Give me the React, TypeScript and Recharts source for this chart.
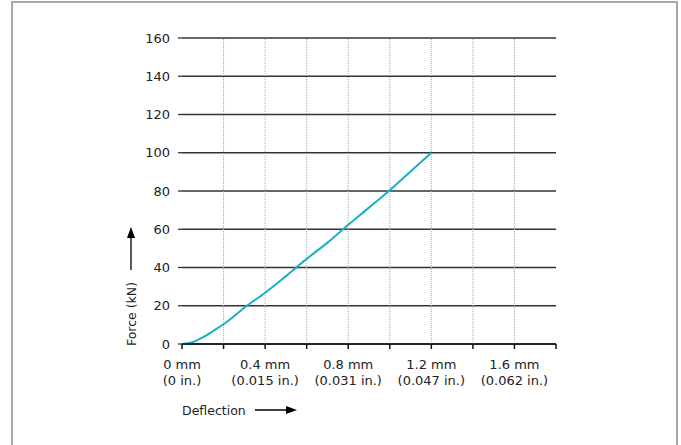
import React from "react";
import {
  LineChart,
  Line,
  XAxis,
  YAxis,
  CartesianGrid,
  ReferenceLine,
} from "recharts";

const deflection = [0, 0.05, 0.1, 0.15, 0.2, 0.25, 0.3, 0.4, 0.5, 0.6, 0.7, 0.8, 0.9, 1.0, 1.1, 1.2];
const force = [0, 0.9, 3.5, 6.8, 10.3, 14.5, 19, 26.8, 35.5, 44.5, 53, 62.3, 71.3, 80.4, 90.2, 100];

const xTicks = [0, 0.2, 0.4, 0.6, 0.8, 1.0, 1.2, 1.4, 1.6, 1.8];
const xGrid = [0.2, 0.4, 0.6, 0.8, 1.0, 1.2, 1.4, 1.6];
const yTicks = [0, 20, 40, 60, 80, 100, 120, 140, 160];

const mmLabels: Record<string, string> = {
  "0": "0 mm",
  "0.4": "0.4 mm",
  "0.8": "0.8 mm",
  "1.2": "1.2 mm",
  "1.6": "1.6 mm",
};
const inLabels: Record<string, string> = {
  "0": "(0 in.)",
  "0.4": "(0.015 in.)",
  "0.8": "(0.031 in.)",
  "1.2": "(0.047 in.)",
  "1.6": "(0.062 in.)",
};

const data = deflection.map((d, i) => ({ d, f: force[i] }));

const FONT = "'DejaVu Sans', Verdana, sans-serif";
const INK = "#222";

const XTick = (props: any) => {
  const { x, y, payload } = props;
  const key = String(Math.round(payload.value * 10) / 10);
  if (!mmLabels[key]) return null;
  return (
    <text x={x} y={y} textAnchor="middle" fontSize={13} fill={INK} fontFamily={FONT}>
      <tspan x={x} dy={17.5}>{mmLabels[key]}</tspan>
      <tspan x={x} dy={16}>{inLabels[key]}</tspan>
    </text>
  );
};

const YTitle = (props: any) => {
  const { viewBox } = props;
  const cx = viewBox.x + 31;
  const cy = 314;
  return (
    <g>
      <text
        x={cx}
        y={cy}
        transform={`rotate(-90 ${cx} ${cy})`}
        textAnchor="middle"
        dominantBaseline="central"
        fontSize={12.5}
        fill={INK}
        fontFamily={FONT}
      >
        Force (kN)
      </text>
      <line x1={cx} y1={270} x2={cx} y2={236} stroke="#000" strokeWidth={1.3} />
      <polygon points={`${cx - 4},${238} ${cx + 4},${238} ${cx},${227}`} fill="#000" />
    </g>
  );
};

const XTitle = (props: any) => {
  const { viewBox } = props;
  const x0 = viewBox.x;
  const y0 = 410;
  return (
    <g>
      <text x={x0} y={y0} dominantBaseline="central" fontSize={12.5} fill={INK} fontFamily={FONT}>
        Deflection
      </text>
      <line x1={x0 + 73} y1={y0} x2={x0 + 106} y2={y0} stroke="#000" strokeWidth={1.3} />
      <polygon points={`${x0 + 104},${y0 - 4} ${x0 + 104},${y0 + 4} ${x0 + 115},${y0}`} fill="#000" />
    </g>
  );
};

export default function App() {
  return (
    <div style={{ position: "absolute", left: 0, top: 0, width: 681, height: 445, background: "#fff", overflow: "hidden" }}>
      <div
        style={{
          position: "absolute",
          left: 11,
          top: 1,
          width: 663,
          height: 470,
          border: "2px solid #a8a8a8",
        }}
      />
      <div style={{ position: "absolute", left: 0, top: 0 }}>
        <LineChart width={681} height={445} data={data} margin={{ top: 38, right: 125, bottom: 0, left: 100 }}>
          <CartesianGrid vertical={false} stroke="#333" strokeWidth={1.3} />
          {xGrid.map((g) => (
            <ReferenceLine key={g} x={g} stroke="#aaa" strokeDasharray="1 1" strokeWidth={1} />
          ))}
          <XAxis
            dataKey="d"
            type="number"
            domain={[0, 1.8]}
            ticks={xTicks}
            interval={0}
            allowDataOverflow
            axisLine={{ stroke: "#111", strokeWidth: 1.5 }}
            tickLine={{ stroke: "#111", strokeWidth: 1.5 }}
            tickSize={5}
            tick={<XTick />}
            height={101}
            label={<XTitle />}
          />
          <YAxis
            type="number"
            domain={[0, 160]}
            ticks={yTicks}
            interval={0}
            width={82}
            axisLine={false}
            tickLine={{ stroke: "#333", strokeWidth: 1.3 }}
            tickSize={4}
            tickMargin={8}
            tick={{ fontSize: 13, fill: INK, fontFamily: FONT }}
            label={<YTitle />}
          />
          <Line
            type="monotone"
            dataKey="f"
            stroke="#1aaecb"
            strokeWidth={2}
            dot={false}
            isAnimationActive={false}
          />
        </LineChart>
      </div>
    </div>
  );
}
